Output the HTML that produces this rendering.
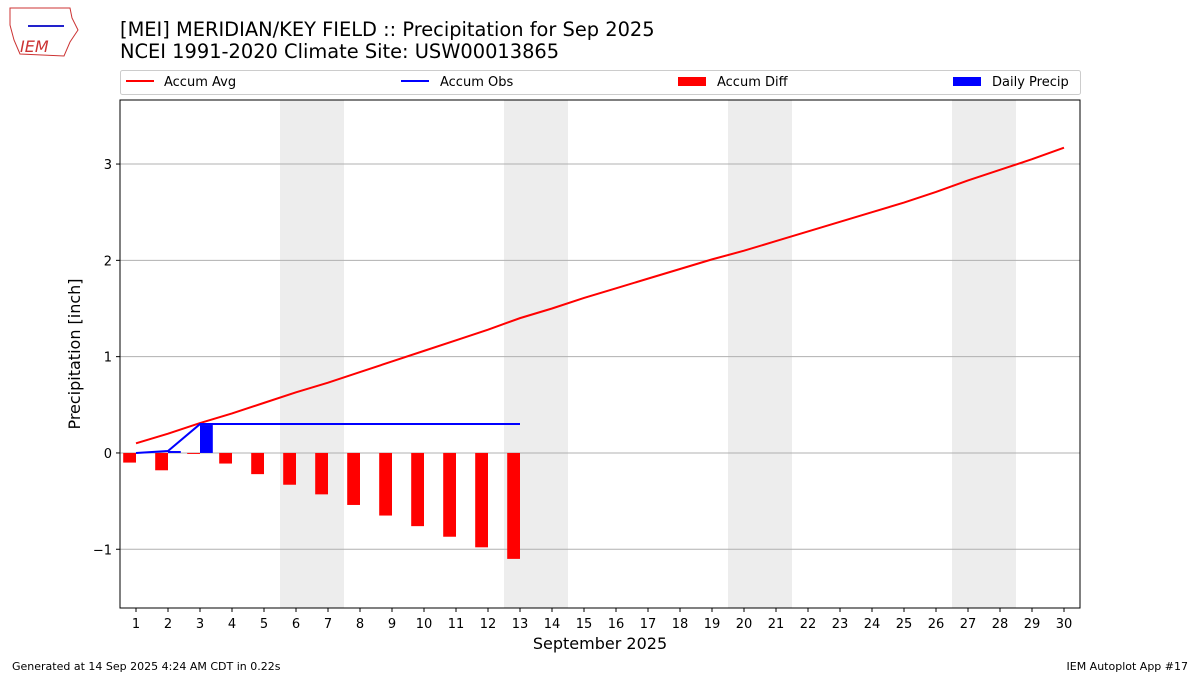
<!DOCTYPE html>
<html><head><meta charset="utf-8"><style>
body{margin:0;background:#fff;font-family:"Liberation Sans","DejaVu Sans",sans-serif;}
svg text{font-family:"DejaVu Sans","Liberation Sans",sans-serif;}
</style></head><body>
<svg id="c" width="1200" height="675" xmlns="http://www.w3.org/2000/svg">
<g>
<path d="M10 8 L70 8 L72 18 L78 30 L70 42 L64 56 L20 54 L14 40 L10 25 Z" fill="none" stroke="#c33" stroke-width="1"/>
<text x="20" y="52" font-size="16" fill="#c33" font-style="italic" font-family="Liberation Serif,serif">IEM</text>
<line x1="28" y1="26" x2="64" y2="26" stroke="#22c" stroke-width="2"/>
</g>
<text x="120" y="36" font-size="19.4" fill="#000">[MEI] MERIDIAN/KEY FIELD :: Precipitation for Sep 2025</text>
<text x="120" y="58" font-size="19.4" fill="#000">NCEI 1991-2020 Climate Site: USW00013865</text>
<g>
<rect x="120.5" y="70.5" width="960" height="24" fill="#fff" stroke="#ccc" rx="2"/>
<g><line x1="126" y1="81" x2="154" y2="81" stroke="red" stroke-width="2"/><text x="164" y="86" font-size="13">Accum Avg</text></g>
<g><line x1="401" y1="81" x2="429" y2="81" stroke="blue" stroke-width="2"/><text x="440" y="86" font-size="13">Accum Obs</text></g>
<g><rect x="678" y="77" width="28" height="9" fill="red"/><text x="717" y="86" font-size="13">Accum Diff</text></g>
<g><rect x="953" y="77" width="28" height="9" fill="blue"/><text x="992" y="86" font-size="13">Daily Precip</text></g>
</g>
<g id="plot"></g>
<text x="12" y="670" font-size="11">Generated at 14 Sep 2025 4:24 AM CDT in 0.22s</text>
<text x="1188" y="670" font-size="11" text-anchor="end">IEM Autoplot App #17</text>
</svg>
<script>
const days=[1,2,3,4,5,6,7,8,9,10,11,12,13,14,15,16,17,18,19,20,21,22,23,24,25,26,27,28,29,30];
const accumAvg=[0.10,0.20,0.31,0.41,0.52,0.63,0.73,0.84,0.95,1.06,1.17,1.28,1.40,1.50,1.61,1.71,1.81,1.91,2.01,2.10,2.20,2.30,2.40,2.50,2.60,2.71,2.83,2.94,3.05,3.17];
const accumObs=[0,0.02,0.30,0.30,0.30,0.30,0.30,0.30,0.30,0.30,0.30,0.30,0.30];
const dailyPrecip=[0,0.02,0.29,0,0,0,0,0,0,0,0,0,0];
const weekendStarts=[6,13,20,27];
const yTicks=[-1,0,1,2,3];
const yTickLabels=["\u22121","0","1","2","3"];
const L=120,R=1080,T=100,B=608,X0=0.5,X1=30.5,Y0=-1.61,Y1=3.665;
const X=d=>L+(d-X0)/(X1-X0)*(R-L);
const Y=v=>B-(v-Y0)/(Y1-Y0)*(B-T);
const g=document.getElementById('plot');
const NS='http://www.w3.org/2000/svg';
function mk(t,a,p){const e=document.createElementNS(NS,t);for(const k in a)e.setAttribute(k,a[k]);(p||g).appendChild(e);return e;}
weekendStarts.forEach(d=>{const e=mk('rect',{x:X(d-0.5),y:T,width:X(d+1.5)-X(d-0.5),height:B-T,fill:'#ededed'});

});
yTicks.forEach((v,i)=>{const l=mk('line',{x1:L,x2:R,y1:Y(v),y2:Y(v),stroke:'#b0b0b0','stroke-width':1});


mk('line',{x1:L-4,x2:L,y1:Y(v),y2:Y(v),stroke:'#000'});
const t=mk('text',{x:L-8,y:Y(v)+5,'font-size':13,'text-anchor':'end'});t.textContent=yTickLabels[i];

});
accumObs.forEach((o,i)=>{const d=days[i];const diff=o-accumAvg[i];
const r=mk('rect',{x:X(d-0.4),y:Math.min(Y(0),Y(diff)),width:X(d)-X(d-0.4),height:Math.abs(Y(diff)-Y(0)),fill:'red'});


const p=dailyPrecip[i];
const b=mk('rect',{x:X(d),y:Y(p),width:X(d+0.4)-X(d),height:Y(0)-Y(p),fill:'blue'});

});
const avgLine=mk('polyline',{points:accumAvg.map((v,i)=>X(days[i])+','+Y(v)).join(' '),fill:'none',stroke:'red','stroke-width':2});


const obsLine=mk('polyline',{points:accumObs.map((v,i)=>X(days[i])+','+Y(v)).join(' '),fill:'none',stroke:'blue','stroke-width':2});


days.forEach(d=>{mk('line',{x1:X(d),x2:X(d),y1:B,y2:B+4,stroke:'#000'});
const t=mk('text',{x:X(d),y:B+20,'font-size':13,'text-anchor':'middle'});t.textContent=d;

});
const fr=mk('rect',{x:L,y:T,width:R-L,height:B-T,fill:'none',stroke:'#000','stroke-width':1});


const xt=mk('text',{x:(L+R)/2,y:649,'font-size':16,'text-anchor':'middle'});xt.textContent='September 2025';


const yt=mk('text',{x:0,y:0,'font-size':16,'text-anchor':'middle',transform:'translate(80,354) rotate(-90)'});yt.textContent='Precipitation [inch]';


</script>
</body></html>
